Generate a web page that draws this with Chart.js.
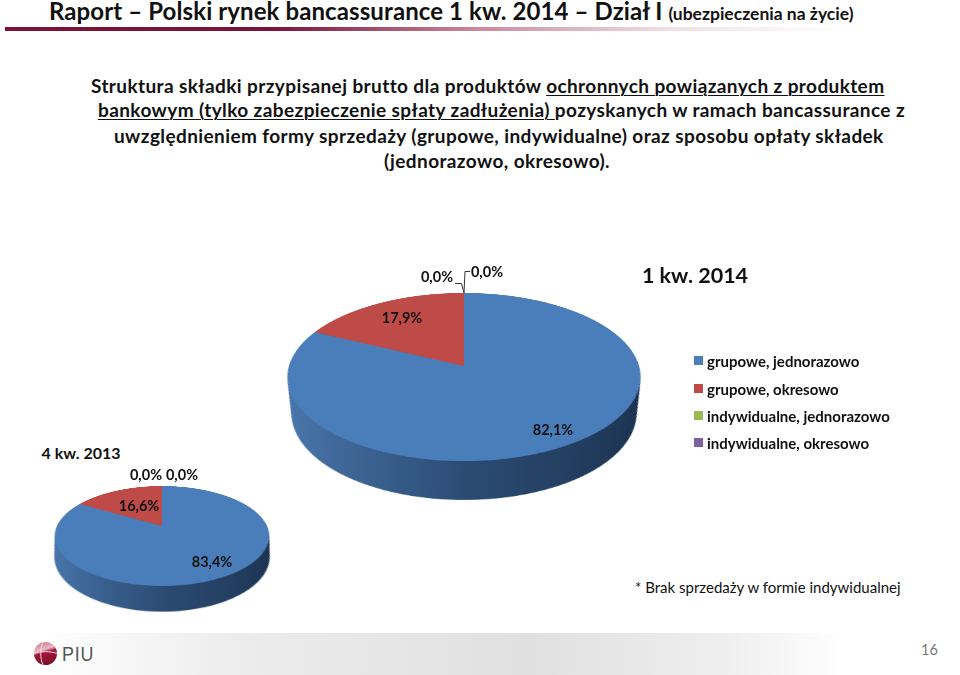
<!DOCTYPE html>
<html lang="pl">
<head>
<meta charset="utf-8">
<title>Raport - Polski rynek bancassurance</title>
<script src="https://cdn.jsdelivr.net/npm/chart.js@4"></script>
<style>
    html, body { margin: 0; padding: 0; background: #fff; }
    #page { position: relative; width: 960px; height: 675px; overflow: hidden; font-family: Lato, sans-serif; color: #111; }
    #page > * { position: absolute; }
    .line { white-space: nowrap; font-weight: 700; font-size: 19px; letter-spacing: 0.4px; line-height: 24px; }
    .line u { text-decoration-thickness: 1px; text-underline-offset: 2px; }
    .val { transform: translate(-50%, -50%); font-size: 14.5px; font-weight: 700; white-space: nowrap; }
    .period { transform: translate(-50%, -50%); font-weight: 700; white-space: nowrap; }
    canvas { display: block; }
    .swatch { width: 9px; height: 9px; }
    .lg { font-size: 15px; font-weight: 700; white-space: nowrap; transform: translateY(-50%); }
</style>
</head>
<body>
<div id="page">
    <div class="line" style="left:49px;top:-3px;font-size:24px;letter-spacing:0.1px;line-height:28px;">Raport – Polski rynek bancassurance 1 kw. 2014 – Dział I <span style="font-size:17.5px;letter-spacing:0">(ubezpieczenia na życie)</span></div>
    <div style="left:5px;top:27px;width:950px;height:4px;background:linear-gradient(to right,#7a1237 0%,#7a1237 28%,#c98ba0 50%,#f0dfe4 70%,#ffffff 88%);"></div>

    <div class="line" style="left:91px;top:74px;">Struktura składki przypisanej brutto dla produktów <u>ochronnych powiązanych z produktem</u></div>
    <div class="line" style="left:98px;top:98px;"><u>bankowym (tylko zabezpieczenie spłaty zadłużenia) </u>pozyskanych w ramach bancassurance z</div>
    <div class="line" style="left:114px;top:124px;">uwzględnieniem formy sprzedaży (grupowe, indywidualne) oraz sposobu opłaty składek</div>
    <div class="line" style="left:384px;top:149px;">(jednorazowo, okresowo).</div>

    <canvas id="pie2014" width="500" height="500" style="left:214px;top:116px;transform:perspective(1177px) rotateX(61.8deg);"></canvas>
    <canvas id="pie2013" width="320" height="320" style="left:2px;top:366px;transform:perspective(467px) rotateX(62.8deg);"></canvas>

    <svg width="40" height="30" style="left:450px;top:268px;" fill="none" stroke="#333" stroke-width="1">
        <path d="M5 15.5H11.5L14 25 14.5 14 15 3.5H20"></path>
    </svg>

    <div id="labels"></div>

    <div class="period" style="left:695px;top:275px;font-size:21.5px;">1 kw. 2014</div>
    <div class="period" style="left:81px;top:452px;font-size:16px;">4 kw. 2013</div>

    <div id="legend"></div>

    <div style="left:635px;top:578px;font-size:15px;white-space:nowrap;">* Brak sprzedaży w formie indywidualnej</div>

    <div style="left:0;top:633px;width:960px;height:42px;background:linear-gradient(to right,#fff 4%,#ececec 25%,#e0e0e0 55%,#eeeeee 75%,#fff 88%);"></div>
    <svg width="30" height="30" style="left:32px;top:639px;">
        <defs><linearGradient id="globe" x1="0" y1="0" x2="0.3" y2="1">
            <stop offset="0" stop-color="#d06a84"></stop><stop offset="0.42" stop-color="#e7b9c6"></stop><stop offset="0.55" stop-color="#a5173c"></stop><stop offset="1" stop-color="#7d0f2c"></stop>
        </linearGradient></defs>
        <circle cx="13.5" cy="14.5" r="11.5" fill="url(#globe)"></circle>
        <path d="M2 14.5C8 12 19 12 25 14.5M11 3C8 10 8 19 11 26" fill="none" stroke="#f3dde3" stroke-width="1"></path>
    </svg>
    <div style="left:62px;top:642px;font-family:'Liberation Sans',sans-serif;font-size:21px;line-height:24px;color:#555;font-weight:400;letter-spacing:1px;transform:scaleX(0.85);transform-origin:left;">PIU</div>
    <div style="left:921px;top:641px;font-size:14.5px;color:#777;font-weight:400;">16</div>
</div>

<script>
const categories = ['grupowe, jednorazowo', 'grupowe, okresowo', 'indywidualne, jednorazowo', 'indywidualne, okresowo'];
const values2014 = [82.1, 17.9, 0, 0];
const values2013 = [83.4, 16.6, 0, 0];
const colors = ['#4a7ebb', '#be4b48', '#98b954', '#7d60a0'];

// bok "3D" - te same luki rysowane kilka razy, przesuniete w dol
const sidePlugin = {
    id: 'pieSide',
    beforeDatasetsDraw(chart, args, opts) {
        const ctx = chart.ctx;
        const arcs = chart.getDatasetMeta(0).data;
        const cx = arcs[0].x, cy = arcs[0].y, r = arcs[0].outerRadius;
        const grad = ctx.createLinearGradient(cx - r, 0, cx + r, 0);
        grad.addColorStop(0, '#4a78ad');
        grad.addColorStop(0.5, '#2c4c74');
        grad.addColorStop(1, '#1c3350');
        for (let o = opts.depth; o > 0; o -= 0.5) {
            const k = 1 - opts.taper * o / opts.depth;
            ctx.save();
            ctx.translate(cx, cy + o);
            ctx.scale(k, k);
            ctx.translate(-cx, -cy);
            arcs.forEach(arc => {
                const saved = arc.options;
                arc.options = Object.assign({}, saved, { backgroundColor: grad, borderWidth: 0 });
                arc.draw(ctx);
                arc.options = saved;
            });
            ctx.restore();
        }
    }
};

function makePie(id, values, padding, depth, taper) {
    return new Chart(document.getElementById(id), {
        type: 'pie',
        data: {
            labels: categories,
            datasets: [{ data: values, backgroundColor: colors, borderWidth: 0 }]
        },
        options: {
            responsive: false,
            animation: false,
            devicePixelRatio: 2,
            layout: { padding: padding },
            plugins: {
                legend: { display: false },
                tooltip: { enabled: false },
                pieSide: { depth: depth, taper: taper }
            }
        },
        plugins: [sidePlugin]
    });
}

makePie('pie2014', values2014, 75, 72, 0.075);
makePie('pie2013', values2013, 55, 41, 0.075);

function pct(v) {
    return v.toFixed(1).replace('.', ',') + '%';
}

// podpisy wartosci
const labelSpots2014 = [[553, 429], [402, 317], [487, 271], [437, 276]];
const labelSpots2013 = [[212, 561], [139, 505], [182, 474], [146, 474]];
const labelBox = document.getElementById('labels');
function addLabels(values, spots) {
    values.forEach((v, i) => {
        const d = document.createElement('div');
        d.className = 'val';
        d.style.cssText = 'position:absolute;left:' + spots[i][0] + 'px;top:' + spots[i][1] + 'px;';
        d.textContent = pct(v);
        labelBox.appendChild(d);
    });
}
addLabels(values2014, labelSpots2014);
addLabels(values2013, labelSpots2013);

// legenda
const legendBox = document.getElementById('legend');
const legendY = [361, 389, 416, 443];
categories.forEach((name, i) => {
    const s = document.createElement('div');
    s.className = 'swatch';
    s.style.cssText = 'position:absolute;left:694px;top:' + (legendY[i] - 5) + 'px;background:' + colors[i];
    legendBox.appendChild(s);
    const t = document.createElement('div');
    t.className = 'lg';
    t.style.cssText = 'position:absolute;left:707px;top:' + legendY[i] + 'px;';
    t.textContent = name;
    legendBox.appendChild(t);
});
</script>
</body>
</html>
